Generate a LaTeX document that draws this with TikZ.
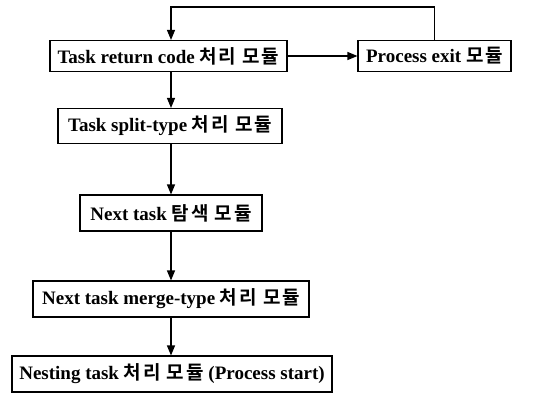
\documentclass[tikz,border=0pt]{standalone}
\usepackage{fontspec}
\setmainfont{Liberation Serif}
\newfontfamily\kr{Noto Sans CJK KR}[BoldFont={* Bold}, LetterSpace=10]
\usetikzlibrary{arrows.meta}
\newcommand{\ko}[1]{{\kr\bfseries #1}}
\tikzset{
  module/.style={draw, line width=1.1pt, inner sep=2pt, align=center,
    font=\bfseries\fontsize{19}{21}\selectfont},
  flow/.style={line width=1.1pt, -{Triangle[length=10pt,width=8pt]}}
}
\begin{document}
\begin{tikzpicture}[x=1pt,y=-1pt]
  \useasboundingbox (0,0) rectangle (553,409);
  % module boxes
  \node[module, minimum width=237pt, minimum height=31pt] (b1) at (168.5,56) {Task return code \ko{처리 모듈}};
  \node[module, minimum width=153pt, minimum height=31pt] (b2) at (434.5,56) {Process exit \ko{모듈}};
  \node[module, minimum width=224pt, minimum height=35pt] (b3) at (170,126) {Task split-type \ko{처리 모듈}};
  \node[module, minimum width=182pt, minimum height=36pt] (b4) at (171,213) {Next task \ko{탐색 모듈}};
  \node[module, minimum width=276pt, minimum height=36pt] (b5) at (171,299) {Next task merge-type \ko{처리 모듈}};
  \node[module, minimum width=320pt, minimum height=36pt] (b6) at (172,374) {Nesting task \ko{처리 모듈} (Process start)};
  \coordinate (loop) at (171,7);
  % connectors
  \draw[flow] (b1) -- (b2);
  \draw[flow] (b2.north) |- (loop) -- (b1.north -| loop);
  \draw[flow] (b1.south -| loop) -- (b3.north -| loop);
  \draw[flow] (b3.south -| loop) -- (b4.north -| loop);
  \draw[flow] (b4.south -| loop) -- (b5.north -| loop);
  \draw[flow] (b5.south -| loop) -- (b6.north -| loop);
\end{tikzpicture}
\end{document}
